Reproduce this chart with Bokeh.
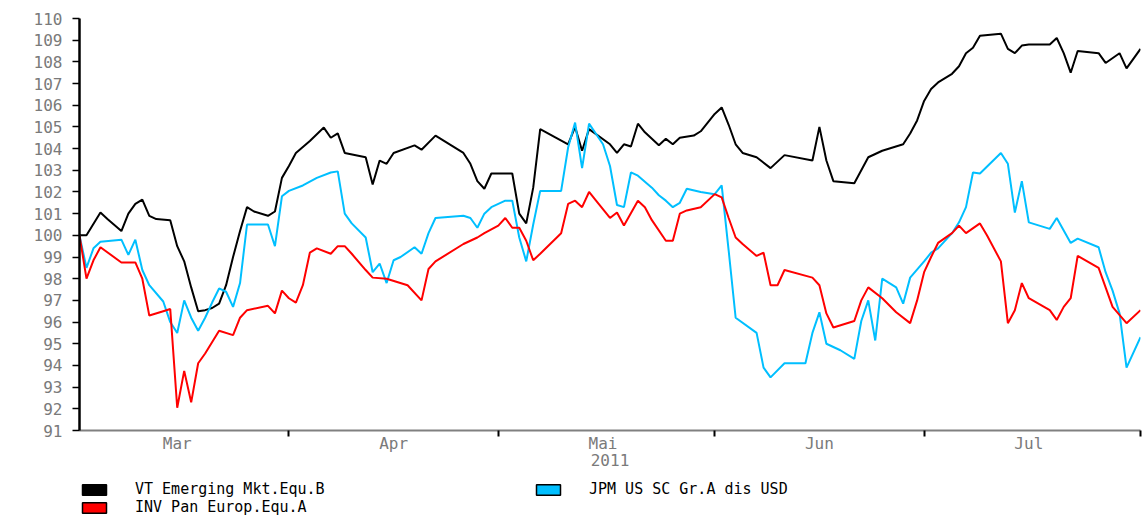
import pandas as pd
from bokeh.plotting import figure
from bokeh.layouts import column
from bokeh.models import FixedTicker, Legend, LegendItem, Range1d, ColumnDataSource
from bokeh.embed import file_html
from bokeh.resources import INLINE

# ---- data ----
vt_dates = ["03-02", "03-03", "03-05", "03-06", "03-08", "03-09", "03-10", "03-11", "03-12", "03-13",
            "03-15", "03-16", "03-17", "03-18", "03-19", "03-20", "03-21", "03-22", "03-23", "03-24",
            "03-25", "03-26", "03-27", "03-29", "03-30", "03-31", "04-01", "04-02", "04-04", "04-06",
            "04-07", "04-08", "04-09", "04-12", "04-13", "04-14", "04-15", "04-16", "04-19", "04-20",
            "04-22", "04-26", "04-27", "04-28", "04-29", "04-30", "05-03", "05-04", "05-05", "05-06",
            "05-07", "05-11", "05-12", "05-13", "05-14", "05-17", "05-18", "05-19", "05-20", "05-21",
            "05-22", "05-24", "05-25", "05-26", "05-27", "05-29", "05-30", "06-01", "06-02", "06-03",
            "06-04", "06-05", "06-07", "06-09", "06-11", "06-15", "06-16", "06-17", "06-18", "06-21",
            "06-23", "06-25", "06-28", "06-29", "06-30", "07-01", "07-02", "07-03", "07-05", "07-06",
            "07-07", "07-08", "07-09", "07-12", "07-13", "07-14", "07-15", "07-16", "07-19", "07-20",
            "07-21", "07-22", "07-23", "07-26", "07-27", "07-29", "07-30", "08-01"]
vt_values = [100.0, 100.0, 101.05, 100.75, 100.2, 101.0, 101.45, 101.65, 100.9, 100.75,
             100.7, 99.5, 98.8, 97.6, 96.5, 96.55, 96.65, 96.85, 97.7, 99.0,
             100.2, 101.3, 101.1, 100.9, 101.1, 102.65, 103.2, 103.8, 104.35, 104.97,
             104.5, 104.7, 103.8, 103.6, 102.35, 103.45, 103.3, 103.8, 104.15, 103.95,
             104.6, 103.8, 103.3, 102.5, 102.15, 102.85, 102.85, 101.0, 100.55, 102.2,
             104.9, 104.2, 105.0, 103.9, 104.9, 104.2, 103.8, 104.2, 104.1, 105.15,
             104.75, 104.15, 104.45, 104.2, 104.5, 104.6, 104.8, 105.6, 105.9, 105.1,
             104.2, 103.8, 103.6, 103.1, 103.7, 103.45, 105.0, 103.45, 102.5, 102.4,
             103.6, 103.9, 104.2, 104.7, 105.3, 106.2, 106.75, 107.05, 107.45, 107.8,
             108.4, 108.65, 109.2, 109.3, 108.6, 108.4, 108.75, 108.8, 108.8, 109.1,
             108.4, 107.5, 108.5, 108.4, 107.95, 108.4, 107.7, 108.6]

jpm_dates = ["03-02", "03-03", "03-04", "03-05", "03-08", "03-09", "03-10", "03-11", "03-12", "03-14",
             "03-15", "03-16", "03-17", "03-18", "03-19", "03-20", "03-21", "03-22", "03-23", "03-24",
             "03-25", "03-26", "03-29", "03-30", "03-31", "04-01", "04-03", "04-05", "04-07", "04-08",
             "04-09", "04-10", "04-12", "04-13", "04-14", "04-15", "04-16", "04-17", "04-19", "04-20",
             "04-21", "04-22", "04-26", "04-27", "04-28", "04-29", "04-30", "05-02", "05-03", "05-04",
             "05-05", "05-06", "05-07", "05-10", "05-11", "05-12", "05-13", "05-14", "05-16", "05-17",
             "05-18", "05-19", "05-20", "05-21", "05-23", "05-24", "05-25", "05-26", "05-27", "05-28",
             "05-30", "06-01", "06-02", "06-03", "06-04", "06-07", "06-08", "06-09", "06-11", "06-14",
             "06-15", "06-16", "06-17", "06-19", "06-21", "06-22", "06-23", "06-24", "06-25", "06-27",
             "06-28", "06-29", "07-01", "07-02", "07-03", "07-05", "07-06", "07-07", "07-08", "07-09",
             "07-12", "07-13", "07-14", "07-15", "07-16", "07-19", "07-20", "07-22", "07-23", "07-26",
             "07-27", "07-28", "07-29", "07-30", "08-01"]
jpm_values = [100.0, 98.5, 99.4, 99.7, 99.8, 99.1, 99.8, 98.4, 97.7, 96.95,
              96.0, 95.5, 97.0, 96.2, 95.6, 96.2, 96.9, 97.55, 97.4, 96.7,
              97.8, 100.5, 100.5, 99.5, 101.8, 102.05, 102.3, 102.65, 102.9, 102.95,
              101.0, 100.55, 99.9, 98.3, 98.7, 97.8, 98.85, 99.0, 99.45, 99.15,
              100.1, 100.8, 100.9, 100.8, 100.35, 101.0, 101.3, 101.6, 101.6, 99.9,
              98.8, 100.5, 102.05, 102.05, 104.05, 105.2, 103.1, 105.15, 104.2, 103.2,
              101.4, 101.3, 102.9, 102.75, 102.2, 101.85, 101.6, 101.3, 101.5, 102.15,
              102.0, 101.9, 102.3, 99.3, 96.2, 95.5, 93.9, 93.45, 94.1, 94.1,
              95.5, 96.45, 95.0, 94.7, 94.3, 96.05, 97.0, 95.15, 98.0, 97.6,
              96.85, 98.05, 98.8, 99.2, 99.4, 100.1, 100.6, 101.3, 102.9, 102.85,
              103.8, 103.3, 101.05, 102.5, 100.6, 100.3, 100.8, 99.65, 99.85, 99.45,
              98.3, 97.45, 96.4, 93.9, 95.3]

inv_dates = ["03-02", "03-03", "03-04", "03-05", "03-08", "03-10", "03-11", "03-12", "03-14", "03-15",
             "03-16", "03-17", "03-18", "03-19", "03-20", "03-22", "03-24", "03-25", "03-26", "03-29",
             "03-30", "03-31", "04-01", "04-02", "04-03", "04-04", "04-05", "04-07", "04-08", "04-09",
             "04-10", "04-12", "04-13", "04-15", "04-18", "04-20", "04-21", "04-22", "04-26", "04-28",
             "04-29", "05-01", "05-02", "05-03", "05-04", "05-05", "05-06", "05-07", "05-10", "05-11",
             "05-12", "05-13", "05-14", "05-15", "05-17", "05-18", "05-19", "05-21", "05-22", "05-23",
             "05-25", "05-26", "05-27", "05-28", "05-30", "06-01", "06-02", "06-03", "06-04", "06-05",
             "06-07", "06-08", "06-09", "06-10", "06-11", "06-15", "06-16", "06-17", "06-18", "06-21",
             "06-22", "06-23", "06-25", "06-27", "06-29", "06-30", "07-01", "07-02", "07-03", "07-05",
             "07-06", "07-07", "07-09", "07-10", "07-12", "07-13", "07-14", "07-15", "07-16", "07-19",
             "07-20", "07-21", "07-22", "07-23", "07-26", "07-28", "07-30", "08-01"]
inv_values = [100.0, 98.0, 98.85, 99.45, 98.75, 98.75, 98.0, 96.3, 96.5, 96.6,
              92.05, 93.75, 92.3, 94.1, 94.55, 95.6, 95.4, 96.2, 96.55, 96.75,
              96.4, 97.45, 97.1, 96.9, 97.7, 99.2, 99.4, 99.15, 99.5, 99.5,
              99.15, 98.4, 98.05, 98.0, 97.7, 97.0, 98.45, 98.8, 99.6, 99.9,
              100.1, 100.45, 100.8, 100.35, 100.35, 99.75, 98.85, 99.15, 100.1, 101.45,
              101.6, 101.3, 102.0, 101.6, 100.8, 101.05, 100.45, 101.6, 101.3, 100.7,
              99.75, 99.75, 101.0, 101.15, 101.3, 101.9, 101.75, 100.8, 99.9, 99.6,
              99.05, 99.2, 97.7, 97.7, 98.4, 98.05, 97.7, 96.4, 95.75, 96.05,
              97.0, 97.6, 97.1, 96.45, 95.95, 97.0, 98.3, 99.0, 99.65, 100.1,
              100.45, 100.1, 100.55, 100.0, 98.8, 95.95, 96.55, 97.8, 97.1, 96.55,
              96.1, 96.7, 97.1, 99.05, 98.5, 96.7, 95.95, 96.55]

series_names = ["VT Emerging Mkt.Equ.B", "JPM US SC Gr.A dis USD", "INV Pan Europ.Equ.A"]
month_labels = ["Mar", "Apr", "Mai", "Jun", "Jul"]
month_label_days = ["2011-03-16", "2011-04-16", "2011-05-16", "2011-06-16", "2011-07-16"]
month_starts = ["2011-04-01", "2011-05-01", "2011-06-01", "2011-07-01", "2011-08-01"]
year_label = "2011"
y_ticks = list(range(91, 111))

colors = ["#000000", "#00BFFF", "#FF0000"]
FONT = "DejaVu Sans Mono"
GREY = "#7a7a7a"


def to_dt(md):
    return pd.to_datetime(["2011-" + d for d in md])


def ms(d):
    return int(pd.Timestamp(d).value // 10**6)


series = [(vt_dates, vt_values), (jpm_dates, jpm_values), (inv_dates, inv_values)]

# ---------------- main chart ----------------
p = figure(width=1142, height=475, x_axis_type="datetime",
           x_range=Range1d(pd.Timestamp("2011-03-02"), pd.Timestamp("2011-08-01")),
           y_range=Range1d(91, 110),
           output_backend="svg", toolbar_location=None,
           min_border_left=79, min_border_right=2, min_border_top=18, min_border_bottom=45,
           background_fill_color="white", border_fill_color="white")
p.outline_line_color = None
p.xgrid.visible = False
p.ygrid.visible = False

for (dates, vals), c in zip(series, colors):
    p.line(to_dt(dates), vals, line_color=c, line_width=2)

# y axis
ya = p.yaxis[0]
ya.ticker = FixedTicker(ticks=y_ticks)
ya.axis_line_color = "black"
ya.axis_line_width = 2.5
ya.major_tick_line_color = "black"
ya.major_tick_line_width = 1.5
ya.major_tick_out = 7
ya.major_tick_in = 0
ya.minor_tick_out = 0
ya.minor_tick_in = 0
ya.major_label_standoff = 10
ya.major_label_text_font = FONT
ya.major_label_text_font_size = "16px"
ya.major_label_text_color = GREY

# x axis
xa = p.xaxis[0]
xa.ticker = FixedTicker(ticks=[ms(d) for d in month_label_days],
                        minor_ticks=[ms(d) for d in month_starts])
xa.major_label_overrides = {ms(d): lab for d, lab in zip(month_label_days, month_labels)}
xa.axis_line_color = "#808080"
xa.axis_line_width = 2
xa.major_tick_out = 0
xa.major_tick_in = 0
xa.minor_tick_out = 6
xa.minor_tick_in = 0
xa.minor_tick_line_color = "black"
xa.minor_tick_line_width = 2
xa.major_label_standoff = -3
xa.major_label_text_font = FONT
xa.major_label_text_font_size = "16px"
xa.major_label_text_color = GREY
xa.axis_label = year_label
xa.axis_label_standoff = -2
xa.axis_label_text_font = FONT
xa.axis_label_text_font_size = "16px"
xa.axis_label_text_font_style = "normal"
xa.axis_label_text_color = GREY

# ---------------- legend strip ----------------
pl = figure(width=1142, height=41, x_axis_type="datetime",
            output_backend="svg", toolbar_location=None,
            x_axis_location=None, y_axis_location=None,
            min_border_left=0, min_border_right=0, min_border_top=0, min_border_bottom=0,
            background_fill_color="white", border_fill_color="white")
pl.outline_line_color = None
pl.xgrid.visible = False
pl.ygrid.visible = False

swatches = []
for (dates, vals), c in zip(series, colors):
    dt = to_dt(dates)
    src = ColumnDataSource(dict(l=dt[:1], r=dt[:1], t=vals[:1], b=vals[:1]))
    sw = pl.quad(left="l", right="r", top="t", bottom="b", source=src,
                 fill_color=c, line_color="black", line_width=1.5)
    sw.visible = False
    swatches.append(sw)

legend = Legend(items=[LegendItem(label=n, renderers=[r]) for n, r in zip(series_names, swatches)],
                orientation="horizontal", ncols=2, location=(0, 0),
                glyph_width=30, glyph_height=13, label_height=13, label_standoff=26,
                label_width=398, spacing=0, padding=0, margin=0,
                border_line_alpha=0, background_fill_alpha=0,
                inactive_fill_alpha=0,
                label_text_font=FONT, label_text_font_size="15px", label_text_color="black")
pl.add_layout(legend, "center")

open("out.html", "w").write(file_html(column(p, pl, spacing=0), INLINE))
